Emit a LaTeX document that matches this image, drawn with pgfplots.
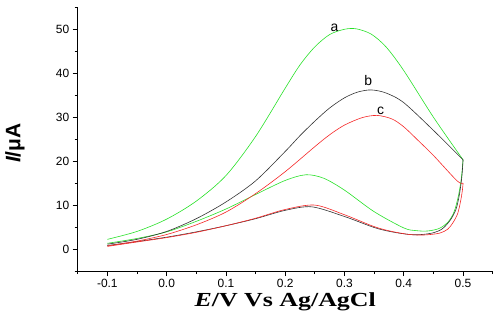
\documentclass[border=0pt]{standalone}
\usepackage{fontspec}
\setmainfont{Liberation Sans}
\newfontfamily\timesfont{Liberation Serif}
\usepackage{pgfplots}
\pgfplotsset{compat=1.18}
\definecolor{cvgreen}{RGB}{40,225,40}
\definecolor{cvred}{RGB}{245,40,40}
\definecolor{cvblack}{RGB}{50,50,50}
\begin{document}
\begin{tikzpicture}
\begin{axis}[
  at={(0,0)}, anchor=south west,
  scale only axis, width=415bp, height=263.7bp,
  xmin=-0.15, xmax=0.55, ymin=-5, ymax=55,
  axis x line*=bottom, axis y line*=left,
  axis line style={black, line width=0.8bp},
  tick align=outside,
  major tick length=5bp, minor tick length=3bp,
  every tick/.style={black, line width=0.7bp},
  xtick={-0.1,0,0.1,0.2,0.3,0.4,0.5},
  xticklabels={-0.1,0.0,0.1,0.2,0.3,0.4,0.5},
  minor xtick={-0.15,-0.05,0.05,0.15,0.25,0.35,0.45,0.55},
  ytick={0,10,20,30,40,50},
  minor ytick={-5,5,15,25,35,45,55},
  /pgf/number format/assume math mode=true,
  tick label style={font=\fontsize{12}{14}\selectfont},
  every axis x label/.style={at={(axis description cs:0.5,-0.1354)}, anchor=base},
  every axis y label/.style={at={(axis description cs:-0.151,0.485)}, rotate=90, anchor=center},
  xlabel={\timesfont\bfseries\fontsize{20}{22}\selectfont\scalebox{1.3}[1]{\itshape E\upshape/V Vs Ag/AgCl}},
  ylabel={\bfseries\fontsize{21}{23}\selectfont\itshape I\upshape/μA},
  clip=false,
]
% a (green) forward
\addplot[cvgreen, line width=0.6bp, smooth] coordinates {
(-0.100,2.2) (-0.050,4.0) (0.000,6.8) (0.050,10.9) (0.100,16.7) (0.150,25.6)
(0.200,36.6) (0.225,41.9) (0.250,46.0) (0.275,48.8) (0.300,50.0) (0.320,50.1)
(0.345,48.9) (0.370,46.0) (0.400,40.6) (0.450,30.0) (0.500,20.3)};
% a (green) reverse
\addplot[cvgreen, line width=0.6bp, smooth] coordinates {
(0.500,20.3) (0.497,16.0) (0.492,12.0) (0.485,8.5) (0.475,6.2) (0.460,4.7)
(0.440,4.1) (0.420,4.2) (0.400,4.8) (0.350,8.5) (0.300,13.4) (0.265,16.1)
(0.235,16.9) (0.200,15.6) (0.150,12.4) (0.100,9.1) (0.050,6.3) (0.000,3.9)
(-0.050,2.4) (-0.100,1.3)};
% b (black) forward
\addplot[cvblack, line width=0.6bp, smooth] coordinates {
(-0.100,1.1) (-0.050,2.2) (0.000,4.0) (0.050,6.9) (0.100,10.7) (0.150,15.5)
(0.200,22.2) (0.225,25.8) (0.250,29.1) (0.275,32.1) (0.300,34.4) (0.322,35.7)
(0.345,36.2) (0.370,35.5) (0.400,33.3) (0.450,27.0) (0.500,20.3)};
% b (black) reverse
\addplot[cvblack, line width=0.6bp, smooth] coordinates {
(0.500,20.3) (0.498,16.5) (0.494,12.5) (0.488,9.0) (0.478,6.5) (0.465,4.6)
(0.450,3.7) (0.430,3.3) (0.410,3.3) (0.380,3.9) (0.350,4.9) (0.300,7.4)
(0.245,9.6) (0.200,8.8) (0.150,6.9) (0.100,5.3) (0.050,3.9) (0.000,2.7)
(-0.050,1.7) (-0.100,0.8)};
% c (red) forward
\addplot[cvred, line width=0.6bp, smooth] coordinates {
(-0.100,0.7) (-0.050,1.8) (0.000,3.3) (0.050,5.5) (0.100,8.4) (0.150,12.6)
(0.200,17.6) (0.250,23.3) (0.275,26.0) (0.300,28.2) (0.330,29.9) (0.355,30.4)
(0.380,29.6) (0.400,27.8) (0.425,24.6) (0.450,21.3) (0.490,15.5) (0.500,15.0)};
% c (red) reverse
\addplot[cvred, line width=0.6bp, smooth] coordinates {
(0.500,15.0) (0.499,13.5) (0.496,11.0) (0.491,8.1) (0.483,6.0) (0.474,4.5)
(0.460,3.6) (0.435,3.2) (0.410,3.3) (0.380,4.0) (0.350,5.1) (0.300,7.8)
(0.250,10.0) (0.200,9.0) (0.150,7.0) (0.100,5.3) (0.050,3.8) (0.000,2.6)
(-0.050,1.6) (-0.100,0.6)};
\node[font=\fontsize{14}{16}\selectfont, anchor=base] at (axis cs:0.283,49.6) {a};
\node[font=\fontsize{14}{16}\selectfont, anchor=base] at (axis cs:0.340,37.2) {b};
\node[font=\fontsize{14}{16}\selectfont, anchor=base] at (axis cs:0.361,30.7) {c};
\end{axis}
\pgfresetboundingbox
\path[use as bounding box] (-77.7bp,-48bp) rectangle (422.3bp,271bp);
\end{tikzpicture}
\end{document}
